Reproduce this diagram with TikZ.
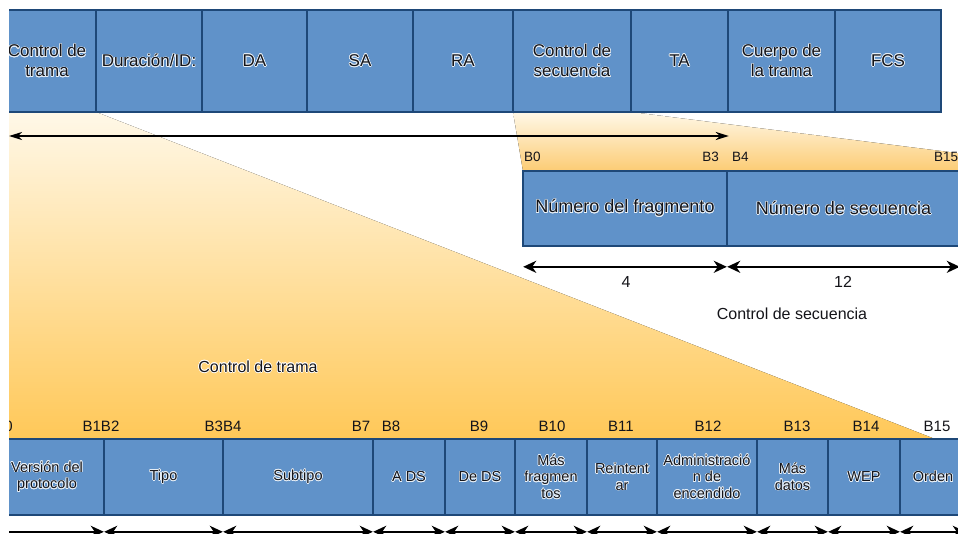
\documentclass[tikz,border=0pt]{standalone}
\usepackage{fontspec}
\setmainfont{Liberation Sans}
\usepackage[copies]{contour}
\usetikzlibrary{arrows.meta}

\definecolor{cellblue}{RGB}{96,146,201}
\definecolor{celledge}{RGB}{30,72,120}
\definecolor{inkdark}{RGB}{20,20,25}
\definecolor{fanlight}{RGB}{255,248,232}
\definecolor{fandeep}{RGB}{255,200,88}
\definecolor{fanseq}{RGB}{252,204,116}

\contourlength{0.6pt}
\newcommand{\glow}[1]{\contour{white!85!cellblue}{#1}}

\begin{document}
\begin{tikzpicture}[x=1pt,y=-1pt,
  cell/.style={draw=celledge,line width=1.6pt,fill=cellblue,inner sep=0pt,align=center,text=inkdark},
  hdr/.style={cell,minimum height=102pt,font=\fontsize{17}{20}\selectfont},
  seqf/.style={cell,minimum height=75pt,font=\fontsize{18}{21}\selectfont},
  flag/.style={cell,minimum height=76pt,font=\fontsize{14.5}{16.5}\selectfont},
  bitlbl/.style={inner sep=0pt,text=inkdark,font=\fontsize{15}{17}\selectfont},
  note/.style={inner sep=0pt,text=inkdark,font=\fontsize{16}{19}\selectfont},
  dim/.style={line width=2.4pt,shorten <=1pt,shorten >=1pt,
    {Stealth[length=13pt,width=12pt,inset=4pt]}-{Stealth[length=13pt,width=12pt,inset=4pt]}}]
\path[use as bounding box] (0,0) rectangle (958,533);
\clip (9,0) rectangle (958,533);

% fans from the frame down to the two expanded fields
\fill[top color=fanlight,bottom color=fandeep] (9,112) -- (96,112) -- (935,439) -- (9,439) -- cycle;
\fill[top color=fanlight,bottom color=fanseq] (513,112) -- (631,112) -- (1100,171) -- (523,171) -- cycle;

% 802.11 frame
\node[hdr,minimum width=98pt] (ctrl) at (47,61) {\glow{Control de}\\\glow{trama}};
\node[hdr,minimum width=106pt] (dur) at (149,61) {\glow{Duración/ID:}};
\node[hdr,minimum width=105pt] (da) at (254.5,61) {\glow{DA}};
\node[hdr,minimum width=106pt] (sa) at (360,61) {\glow{SA}};
\node[hdr,minimum width=100pt] (ra) at (463,61) {\glow{RA}};
\node[hdr,minimum width=118pt] (seqc) at (572,61) {\glow{Control de}\\\glow{secuencia}};
\node[hdr,minimum width=97pt] (ta) at (679.5,61) {\glow{TA}};
\node[hdr,minimum width=107pt] (body) at (781.5,61) {\glow{Cuerpo de}\\\glow{la trama}};
\node[hdr,minimum width=106pt] (fcs) at (888,61) {\glow{FCS}};

\coordinate (hdrL) at (9,136);
\coordinate (hdrR) at (hdrL -| ta.east);
\draw[line width=2pt,{Stealth[length=13pt,width=8pt,inset=4pt]}-{Stealth[length=13pt,width=8pt,inset=4pt]}] (hdrL) -- (hdrR);

% sequence control field
\node[bitlbl,anchor=west,font=\fontsize{13.5}{15}\selectfont] (sb0) at (524,157) {B0};
\node[bitlbl,anchor=east,font=\fontsize{13.5}{15}\selectfont] (sb3) at (719,157) {B3};
\node[bitlbl,anchor=west,font=\fontsize{13.5}{15}\selectfont] (sb4) at (732,157) {B4};
\node[bitlbl,anchor=west,font=\fontsize{13.5}{15}\selectfont] (sb15) at (934,157) {B15};

\node[seqf,minimum width=204pt] (frag) at (625,208.5) {\glow{Número del fragmento}};
\node[seqf,minimum width=233pt] (seqn) at (843.5,208.5) {\glow{Número de secuencia}};

\draw[dim] ([yshift=-20pt]frag.south west) -- ([yshift=-20pt]frag.south east);
\draw[dim] ([yshift=-20pt]seqn.south west) -- ([yshift=-20pt]seqn.south east);
\node[note] (n4) at (626,282) {4};
\node[note] (n12) at (843,282) {12};
\node[note] (seqlbl) at (792,314) {Control de secuencia};

\node[note] (ctllbl) at (258,367) {\contour{white}{Control de trama}};

% frame control field
\node[bitlbl,anchor=east] (b0) at (13,426) {B0};
\node[bitlbl] (b1b2) at (101,426) {B1B2};
\node[bitlbl] (b3b4) at (223,426) {B3B4};
\node[bitlbl] (b7) at (361,426) {B7};
\node[bitlbl] (b8) at (391,426) {B8};
\node[bitlbl] (b9) at (479,426) {B9};
\node[bitlbl] (b10) at (552,426) {B10};
\node[bitlbl] (b11) at (621,426) {B11};
\node[bitlbl] (b12) at (708,426) {B12};
\node[bitlbl] (b13) at (797,426) {B13};
\node[bitlbl] (b14) at (866,426) {B14};
\node[bitlbl] (b15) at (937,426) {B15};

\node[flag,minimum width=114pt] (ver) at (47,477) {\glow{Versión del}\\\glow{protocolo}};
\node[flag,minimum width=119pt] (tipo) at (163.5,477) {\glow{Tipo}};
\node[flag,minimum width=150pt] (sub) at (298,477) {\glow{Subtipo}};
\node[flag,minimum width=72pt] (tods) at (409,477) {\glow{A DS}};
\node[flag,minimum width=70pt] (fromds) at (480,477) {\glow{De DS}};
\node[flag,minimum width=72pt] (morefrag) at (551,477) {\glow{Más}\\\glow{fragmen}\\\glow{tos}};
\node[flag,minimum width=70pt] (retry) at (622,477) {\glow{Reintent}\\\glow{ar}};
\node[flag,minimum width=100pt] (pwr) at (707,477) {\glow{Administració}\\\glow{n de}\\\glow{encendido}};
\node[flag,minimum width=71pt] (moredata) at (792.5,477) {\glow{Más}\\\glow{datos}};
\node[flag,minimum width=72pt] (wep) at (864,477) {\glow{WEP}};
\node[flag,minimum width=66pt] (order) at (933,477) {\glow{Orden}};

\draw[dim] ([yshift=-16pt]ver.south west) -- ([yshift=-16pt]ver.south east);
\draw[dim] ([yshift=-16pt]tipo.south west) -- ([yshift=-16pt]tipo.south east);
\draw[dim] ([yshift=-16pt]sub.south west) -- ([yshift=-16pt]sub.south east);
\draw[dim] ([yshift=-16pt]tods.south west) -- ([yshift=-16pt]tods.south east);
\draw[dim] ([yshift=-16pt]fromds.south west) -- ([yshift=-16pt]fromds.south east);
\draw[dim] ([yshift=-16pt]morefrag.south west) -- ([yshift=-16pt]morefrag.south east);
\draw[dim] ([yshift=-16pt]retry.south west) -- ([yshift=-16pt]retry.south east);
\draw[dim] ([yshift=-16pt]pwr.south west) -- ([yshift=-16pt]pwr.south east);
\draw[dim] ([yshift=-16pt]moredata.south west) -- ([yshift=-16pt]moredata.south east);
\draw[dim] ([yshift=-16pt]wep.south west) -- ([yshift=-16pt]wep.south east);
\draw[dim] ([yshift=-16pt]order.south west) -- ([yshift=-16pt]order.south east);
\end{tikzpicture}
\end{document}
